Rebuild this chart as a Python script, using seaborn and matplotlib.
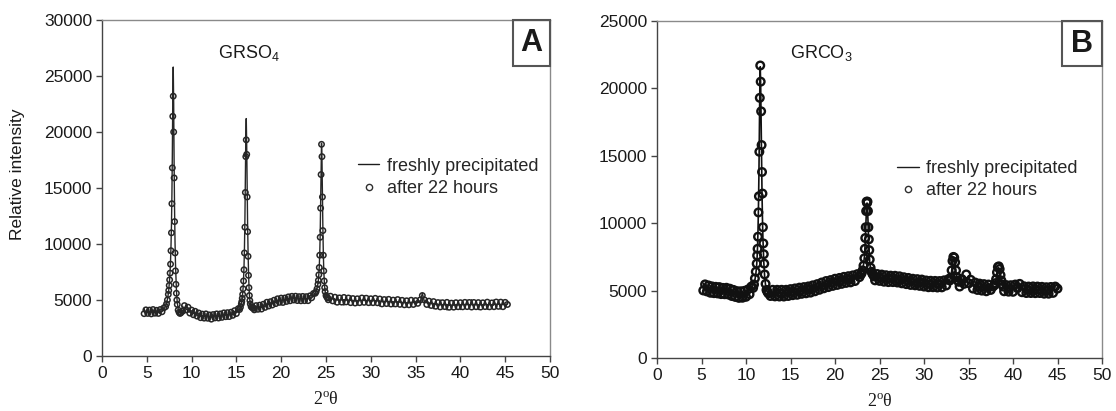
import numpy as np
import pandas as pd
import matplotlib
matplotlib.use("Agg")
import matplotlib.pyplot as plt
import seaborn as sns
from matplotlib.lines import Line2D
from matplotlib.patches import Rectangle

# ---------------- Panel A : GRSO4 ----------------
a_theta = [
    4.7, 4.9, 5.1, 5.3, 5.5, 5.7, 5.9, 6.1, 6.3, 6.5, 6.7, 6.9,
    7.1, 7.2, 7.3, 7.4, 7.45, 7.5, 7.55, 7.6, 7.65, 7.7, 7.75, 7.8, 7.85, 7.9,
    7.95, 8.0, 8.05, 8.1, 8.15, 8.2, 8.25, 8.3, 8.35, 8.4, 8.5, 8.6, 8.7, 8.8,
    9.0, 9.2, 9.4, 9.6, 9.8, 10.0, 10.2, 10.4, 10.6, 10.8, 11.0, 11.2, 11.4, 11.6,
    11.8, 12.0, 12.2, 12.4, 12.6, 12.8, 13.0, 13.2, 13.4, 13.6, 13.8, 14.0, 14.2,
    14.4, 14.6, 14.8, 15.0, 15.2,
    15.35, 15.45, 15.55, 15.6, 15.65, 15.7, 15.75, 15.8, 15.85, 15.9, 15.95, 16.0,
    16.05, 16.1, 16.15, 16.2, 16.25, 16.3, 16.35, 16.4, 16.45, 16.5, 16.55, 16.65,
    16.75, 16.85, 16.95,
    17.0, 17.2, 17.4, 17.6, 17.8, 18.0, 18.2, 18.4, 18.6, 18.8, 19.0, 19.2, 19.4,
    19.6, 19.8, 20.0, 20.2, 20.4, 20.6, 20.8, 21.0, 21.2, 21.4, 21.6, 21.8, 22.0,
    22.2, 22.4, 22.6, 22.8, 23.0, 23.2, 23.4, 23.6,
    23.8, 23.9, 24.0, 24.1, 24.15, 24.2, 24.25, 24.3, 24.35, 24.4, 24.45, 24.5,
    24.55, 24.6, 24.65, 24.7, 24.75, 24.8, 24.85, 24.9, 25.0, 25.1, 25.2,
    25.25, 25.5, 25.75, 26.0, 26.25, 26.5, 26.75, 27.0, 27.25, 27.5, 27.75, 28.0,
    28.25, 28.5, 28.75, 29.0, 29.25, 29.5, 29.75, 30.0, 30.25, 30.5, 30.75, 31.0,
    31.25, 31.5, 31.75, 32.0, 32.25, 32.5, 32.75, 33.0, 33.25, 33.5, 33.75, 34.0,
    34.25, 34.5, 34.75, 35.0, 35.25, 35.5, 35.75, 36.0, 36.25, 36.5, 36.75, 37.0,
    37.25, 37.5, 37.75, 38.0, 38.25, 38.5, 38.75, 39.0, 39.25, 39.5, 39.75, 40.0,
    40.25, 40.5, 40.75, 41.0, 41.25, 41.5, 41.75, 42.0, 42.25, 42.5, 42.75, 43.0,
    43.25, 43.5, 43.75, 44.0, 44.25, 44.5, 44.75, 45.0, 45.25,
]
a_fresh = [
    4250, 3700, 4150, 3650, 4300, 3750, 4100, 3600, 4250, 3800, 4350, 4200,
    4450, 4700, 5050, 5550, 5900, 6350, 6900, 7600, 8500, 9800, 11600, 14200, 18000, 23000,
    25800, 22500, 17000, 13000, 10200, 8300, 7000, 6000, 5300, 4800, 4200, 3950, 3820, 3870,
    4450, 4050, 4650, 3900, 4250, 3570, 4170, 3520, 4120, 3350, 3870, 3180, 3890, 3260,
    3900, 3150, 3800, 3270, 3960, 3260, 3860, 3220, 3970, 3380, 3960, 3290, 4050,
    3480, 4050, 3510, 4250, 3900,
    4200, 4400, 4700, 4900, 5200, 5600, 6100, 6900, 8000, 9700, 12200, 15800,
    19500, 21200, 18800, 15000, 11800, 9400, 7600, 6300, 5500, 5000, 4700, 4450,
    4350, 4300, 4280,
    4620, 4020, 4570, 3970, 4700, 4190, 4900, 4280, 4930, 4350, 5080, 4550, 5230,
    4580, 5210, 4580, 5300, 4750, 5400, 4780, 5520, 4860, 5450, 4810, 5430, 4760,
    5450, 4800, 5350, 4760, 5450, 4940, 5520, 5330,
    5650, 5800, 6050, 6450, 6800, 7300, 8000, 9100, 10800, 13500, 16800, 19000,
    17600, 14500, 11500, 9200, 7700, 6800, 6200, 5800, 5450, 5300, 5200,
    5500, 4770, 5330, 4630, 5410, 4740, 5320, 4540, 5260, 4670, 5360, 4630,
    5210, 4570, 5280, 4680, 5380, 4610, 5260, 4560, 5300, 4630, 5180, 4460,
    5200, 4580, 5240, 4490, 5090, 4410, 5150, 4500, 5200, 4510, 5080, 4390,
    5040, 4430, 5120, 4460, 5050, 4750, 5600, 4800, 5100, 4320, 5000, 4230,
    4910, 4260, 4990, 4280, 4830, 4110, 4880, 4260, 4920, 4170, 4850, 4150,
    4920, 4290, 4980, 4260, 5020, 4320, 4880, 4150, 4900, 4270, 4930, 4170,
    4870, 4260, 5010, 4320, 4910, 4200, 4960, 4320, 4750,
]
a_aged = [
    3780, 4120, 3800, 4100, 3760, 4150, 3820, 4080, 3800, 4150, 3950, 4300,
    4400, 4650, 5000, 5500, 5850, 6300, 6800, 7400, 8200, 9400, 11000, 13600, 16800, 21400,
    23200, 20000, 15900, 12000, 9200, 7600, 6400, 5600, 5000, 4600, 4100, 3900, 3800, 3850,
    4000, 4500, 4120, 4360, 3830, 4100, 3680, 3990, 3560, 3840, 3420, 3740, 3380, 3760,
    3370, 3670, 3290, 3700, 3400, 3760, 3390, 3760, 3450, 3850, 3510, 3870, 3520,
    3910, 3630, 4050, 3790, 4220,
    4150, 4350, 4650, 4850, 5150, 5500, 6000, 6700, 7700, 9200, 11500, 14600,
    17800, 19300, 18000, 14200, 11100, 8900, 7200, 6100, 5400, 4950, 4650, 4400,
    4320, 4280, 4260,
    4120, 4500, 4170, 4540, 4190, 4620, 4340, 4800, 4460, 4850, 4550, 4980, 4680,
    5110, 4790, 5170, 4780, 5180, 4870, 5280, 4930, 5330, 5000, 5340, 4950, 5300,
    4930, 5320, 4940, 5300, 4940, 5370, 5200, 5580,
    5600, 5750, 6000, 6400, 6750, 7250, 7900, 9000, 10600, 13200, 16200, 18900,
    17800, 14200, 11200, 9000, 7600, 6700, 6100, 5750, 5400, 5250, 5180,
    5020, 5340, 4920, 5250, 4800, 5190, 4810, 5230, 4830, 5180, 4760, 5130,
    4730, 5110, 4760, 5180, 4790, 5160, 4760, 5110, 4760, 5150, 4750, 5090,
    4650, 5040, 4680, 5060, 4640, 4990, 4650, 5040, 4610, 4970, 4570, 4930,
    4570, 4980, 4600, 4950, 4700, 5000, 5400, 5000, 4600, 4900, 4510, 4860,
    4440, 4770, 4380, 4760, 4410, 4790, 4350, 4720, 4360, 4760, 4400, 4760,
    4390, 4790, 4410, 4780, 4370, 4780, 4400, 4770, 4370, 4750, 4410, 4810,
    4390, 4740, 4400, 4820, 4430, 4810, 4400, 4790, 4600,
]

# ---------------- Panel B : GRCO3 ----------------
b_theta = [
    5.2, 5.4, 5.6, 5.8, 6.0, 6.2, 6.4, 6.6, 6.8, 7.0, 7.2, 7.4, 7.6, 7.8, 8.0,
    8.2, 8.4, 8.6, 8.8, 9.0, 9.2, 9.4, 9.6, 9.8, 10.0, 10.2, 10.4, 10.6, 10.8,
    10.9, 11.0, 11.1, 11.2, 11.25, 11.3, 11.35, 11.4, 11.45, 11.5, 11.55, 11.6,
    11.65, 11.7, 11.75, 11.8, 11.85, 11.9, 11.95, 12.0, 12.05, 12.1, 12.2, 12.3,
    12.4, 12.5,
    12.75, 13.0, 13.25, 13.5, 13.75, 14.0, 14.25, 14.5, 14.75, 15.0, 15.25, 15.5,
    15.75, 16.0, 16.25, 16.5, 16.75, 17.0, 17.25, 17.5, 17.75, 18.0, 18.25, 18.5,
    18.75, 19.0, 19.25, 19.5, 19.75, 20.0, 20.25, 20.5, 20.75, 21.0, 21.25, 21.5,
    21.75, 22.0, 22.25, 22.5, 22.75,
    22.9, 23.0, 23.1, 23.2, 23.3, 23.35, 23.4, 23.45, 23.5, 23.55, 23.6, 23.65,
    23.7, 23.75, 23.8, 23.85, 23.9, 24.0, 24.1, 24.2, 24.3, 24.4,
    24.5, 24.75, 25.0, 25.25, 25.5, 25.75, 26.0, 26.25, 26.5, 26.75, 27.0, 27.25,
    27.5, 27.75, 28.0, 28.25, 28.5, 28.75, 29.0, 29.25, 29.5, 29.75, 30.0, 30.25,
    30.5, 30.75, 31.0, 31.25, 31.5, 31.75, 32.0, 32.25, 32.5, 32.75,
    32.9, 33.0, 33.1, 33.2, 33.3, 33.4, 33.5, 33.6, 33.7, 33.8, 33.9,
    34.0, 34.25, 34.5, 34.75, 35.0, 35.25, 35.5, 35.75, 36.0, 36.25, 36.5, 36.75,
    37.0, 37.25, 37.5, 37.75,
    37.9, 38.0, 38.1, 38.2, 38.3, 38.4, 38.5, 38.6, 38.7, 38.8, 38.9,
    39.0, 39.25, 39.5, 39.75, 40.0, 40.25, 40.5, 40.75, 41.0, 41.25, 41.5, 41.75,
    42.0, 42.25, 42.5, 42.75, 43.0, 43.25, 43.5, 43.75, 44.0, 44.25, 44.5, 44.75, 45.0,
]
b_fresh = [
    5550, 4950, 5440, 4810, 5360, 4800, 5390, 4740, 5270, 4650, 5290, 4720, 5290, 4660, 5220,
    4570, 5120, 4520, 5090, 4460, 5000, 4370, 4970, 4430, 5070, 4600, 5230, 4900, 5450,
    5500, 5800, 6200, 6900, 7500, 8300, 9500, 11200, 13500, 16500, 19800, 21600,
    20200, 17400, 14600, 12200, 10300, 8900, 7900, 7100, 6500, 6000, 5400, 5000,
    4900, 4850,
    5130, 4520, 5120, 4540, 5100, 4480, 5090, 4540, 5160, 4590, 5230, 4610,
    5190, 4640, 5290, 4750, 5380, 4790, 5390, 4840, 5500, 4970, 5620, 5050,
    5670, 5120, 5790, 5290, 5910, 5340, 5960, 5390, 6040, 5500, 6130, 5540,
    6140, 5600, 6210, 5770, 6350,
    6250, 6350, 6550, 6900, 7500, 8000, 8700, 9600, 10600, 11300, 11500, 11100,
    10300, 9300, 8400, 7700, 7100, 6600, 6350, 6200, 6100, 6050,
    6300, 5700, 6270, 5630, 6180, 5570, 6180, 5620, 6180, 5550, 6110, 5480,
    6080, 5490, 6060, 5410, 5960, 5350, 5890, 5290, 5880, 5280, 5860, 5220,
    5770, 5160, 5770, 5210, 5780, 5180, 5770, 5270, 5780, 5600,
    5800, 6000, 6400, 7000, 7400, 7350, 6900, 6300, 5900, 5700, 5600,
    5850, 5300, 6050, 5650, 6100, 5250, 5700, 5050, 5600, 4980, 5550, 4930,
    5500, 4900, 5500, 5550,
    5450, 5600, 5900, 6300, 6650, 6700, 6500, 6100, 5700, 5400, 5250,
    5500, 4870, 5430, 4820, 5440, 4960, 5630, 4950, 5440, 4810, 5370, 4750,
    5330, 4750, 5380, 4780, 5350, 4720, 5310, 4720, 5330, 4750, 5350, 4850, 5300,
]
b_aged = [
    5010, 5460, 4940, 5380, 4840, 5310, 4810, 5280, 4790, 5260, 4740, 5200, 4730, 5210, 4710,
    5140, 4600, 5050, 4530, 4960, 4460, 4950, 4470, 4980, 4540, 5080, 4730, 5300, 5200,
    5450, 5900, 6400, 7000, 7600, 8100, 9000, 10800, 12000, 15300, 19300, 21700,
    20500, 18300, 15800, 13800, 12200, 9700, 8500, 7700, 7000, 6200, 5500, 5050,
    4920, 4800,
    4600, 5060, 4570, 5060, 4560, 5060, 4560, 5060, 4600, 5110, 4660, 5160,
    4690, 5220, 4760, 5260, 4800, 5310, 4850, 5390, 4950, 5480, 5060, 5600,
    5170, 5710, 5260, 5780, 5350, 5880, 5420, 5940, 5500, 6020, 5570, 6070,
    5610, 6130, 5710, 6220, 6000,
    6200, 6300, 6500, 6850, 7400, 8100, 8900, 9700, 10900, 11600, 11500, 11600,
    10900, 9700, 8800, 8000, 7300, 6700, 6400, 6250, 6150, 6050,
    5760, 6230, 5720, 6190, 5660, 6140, 5630, 6110, 5630, 6100, 5600, 6060,
    5540, 5990, 5480, 5940, 5420, 5880, 5390, 5850, 5350, 5820, 5300, 5750,
    5250, 5730, 5250, 5720, 5230, 5710, 5240, 5760, 5380, 5850,
    5750, 5950, 6500, 7200, 7500, 7450, 7100, 6500, 6000, 5750, 5650,
    5300, 5850, 5500, 6200, 5550, 5800, 5150, 5600, 5050, 5520, 5000, 5480,
    4950, 5450, 5050, 5300,
    5400, 5550, 5850, 6350, 6750, 6800, 6600, 6150, 5750, 5450, 5300,
    4950, 5410, 4920, 5400, 4910, 5450, 5180, 5500, 4880, 5320, 4820, 5300,
    4820, 5310, 4810, 5300, 4820, 5280, 4770, 5250, 4770, 5270, 4830, 5300, 5150,
]

x_ticks = [0, 5, 10, 15, 20, 25, 30, 35, 40, 45, 50]
a_yticks = [0, 5000, 10000, 15000, 20000, 25000, 30000]
b_yticks = [0, 5000, 10000, 15000, 20000, 25000]
legend_labels = ["freshly precipitated", "after 22 hours"]

df_a = pd.DataFrame({"theta": a_theta, "fresh": a_fresh, "aged": a_aged})
df_b = pd.DataFrame({"theta": b_theta, "fresh": b_fresh, "aged": b_aged})

sns.set_theme(style="white")
plt.rcParams["font.family"] = ["Liberation Sans", "DejaVu Sans"]
plt.rcParams["mathtext.fontset"] = "custom"
plt.rcParams["mathtext.rm"] = "Liberation Sans"
plt.rcParams["mathtext.it"] = "Liberation Sans:italic"

fig = plt.figure(figsize=(11.16, 4.11), dpi=100)
axA = fig.add_axes([102 / 1116, 1 - 356 / 411, 448 / 1116, 336 / 411])
axB = fig.add_axes([657 / 1116, 1 - 358 / 411, 445 / 1116, 337 / 411])


def panel(ax, df, ymax, yticks, msize, mew, mec, lw, lcolor):
    sns.lineplot(data=df, x="theta", y="fresh", ax=ax, color=lcolor,
                 linewidth=lw, estimator=None, sort=False, legend=False, zorder=2)
    sns.scatterplot(data=df, x="theta", y="aged", ax=ax, marker="o", s=msize,
                    color="white", edgecolor=mec, linewidth=mew, legend=False, zorder=3)
    ax.collections[-1].set_facecolor("none")
    ax.set_xlim(0, 50)
    ax.set_ylim(0, ymax)
    ax.set_xticks(x_ticks)
    ax.set_yticks(yticks)
    ax.grid(False)
    ax.tick_params(axis="both", which="major", bottom=True, left=True, direction="out",
                   length=4, width=1, color="#444444", labelsize=12.5, pad=3,
                   labelcolor="#1a1a1a")
    for side in ["top", "right"]:
        ax.spines[side].set_color("#8a8a8a")
        ax.spines[side].set_linewidth(1.0)
    for side in ["left", "bottom"]:
        ax.spines[side].set_color("#444444")
        ax.spines[side].set_linewidth(1.0)
    ax.set_xlabel("2$^{\\mathregular{o}}$θ", fontfamily="Liberation Serif",
                  fontsize=13, labelpad=8, color="#1a1a1a")
    handles = [Line2D([], [], color="#1c1c1c", lw=1.0),
               Line2D([], [], marker="o", ls="", mfc="white", mec="#303030", ms=4.5, mew=1.0)]
    return handles


hA = panel(axA, df_a, 30000, a_yticks, 15, 1.1, "#262626", 1.0, "#262626")
hB = panel(axB, df_b, 25000, b_yticks, 30, 1.7, "#111111", 1.2, "#111111")

axA.set_ylabel("Relative intensity", fontsize=12.5, color="#1a1a1a")
axA.yaxis.set_label_coords(-0.172, 0.54)
axB.set_ylabel("")

axA.legend(hA, legend_labels, loc="upper left", bbox_to_anchor=(0.571, 0.590),
           frameon=False, fontsize=13, handlelength=1.2, handletextpad=0.4,
           labelspacing=0.3, borderpad=0, borderaxespad=0)
axB.legend(hB, legend_labels, loc="upper left", bbox_to_anchor=(0.539, 0.588),
           frameon=False, fontsize=13, handlelength=1.2, handletextpad=0.4,
           labelspacing=0.3, borderpad=0, borderaxespad=0)

axA.text(0.259, 0.902, "GRSO$_{\\mathregular{4}}$", transform=axA.transAxes,
         ha="left", va="center", fontsize=13, color="#1a1a1a")
axB.text(0.299, 0.905, "GRCO$_{\\mathregular{3}}$", transform=axB.transAxes,
         ha="left", va="center", fontsize=13, color="#1a1a1a")

for ax, letter, x0, h in [(axA, "A", 0.9174, 0.137), (axB, "B", 0.910, 0.134)]:
    ax.add_patch(Rectangle((x0, 1 - h), 1 - x0, h, transform=ax.transAxes,
                           fill=False, ec="#555555", lw=1.5, zorder=5, clip_on=False))
    ax.text(x0 + (1 - x0) / 2, 1 - h / 2, letter, transform=ax.transAxes,
            ha="center", va="center", fontsize=22, fontweight="bold", color="#1a1a1a")

fig.savefig("out.png", dpi=100)
